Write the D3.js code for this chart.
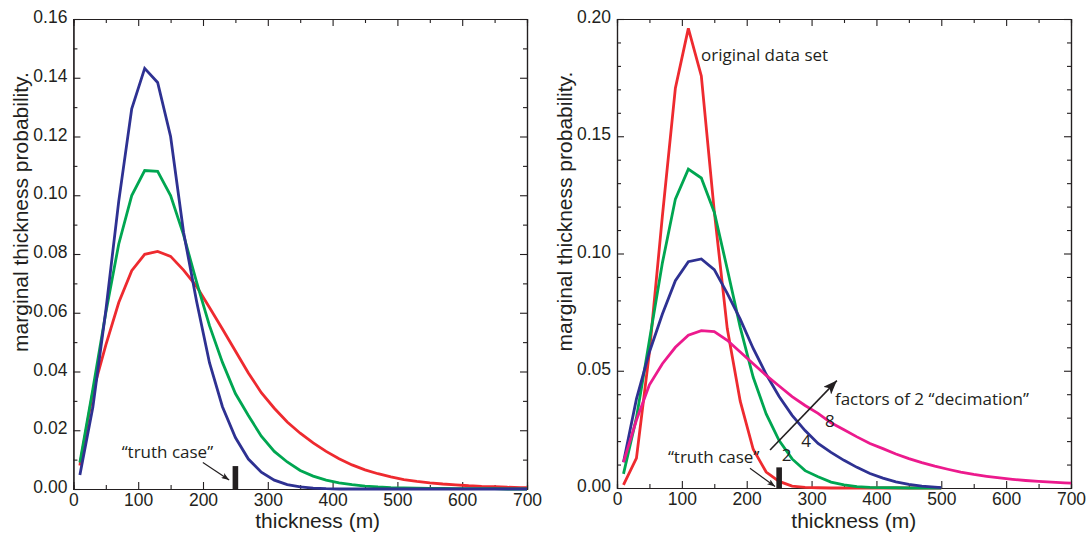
<!DOCTYPE html>
<html>
<head>
<meta charset="utf-8">
<script src="https://cdn.jsdelivr.net/npm/d3@7"></script>
<style>
  body { margin: 0; background: #fff; }
</style>
</head>
<body>
<div id="canvas"></div>
<script>
// Canvas
var w = 1091;
var h = 535;
var ink = "#231f20";
var tickFont = "'Liberation Sans', Arial, sans-serif";
var annoFont = "'Open Sans', sans-serif";

// ---- data ----
// thickness (m) sample points
const thicknessLong = [10, 30, 50, 70, 90, 110, 130, 150, 170, 190, 210, 230, 250, 270, 290, 310, 330, 350,
  370, 390, 410, 430, 450, 470, 490, 510, 530, 550, 570, 590, 610, 630, 650, 670, 690, 700];
const thicknessShort = [10, 30, 50, 70, 90, 110, 130, 150, 170, 190, 210, 230, 250, 270, 290, 310, 330, 350,
  370, 390, 410, 430, 450, 470, 490, 500];

// left panel
const leftRed = [0.008, 0.033, 0.049, 0.0635, 0.0743, 0.0799, 0.0809, 0.0792, 0.0745, 0.069, 0.0618, 0.0545,
  0.047, 0.0395, 0.0328, 0.0275, 0.0228, 0.019, 0.0157, 0.0128, 0.0103, 0.0082, 0.0065, 0.0052, 0.0041, 0.0032,
  0.0026, 0.0021, 0.0017, 0.0014, 0.0011, 0.0009, 0.0008, 0.0006, 0.0005, 0.0005];
const leftGreen = [0.009, 0.034, 0.060, 0.0834, 0.0999, 0.1084, 0.1081, 0.0999, 0.0865, 0.0705, 0.0556, 0.0431,
  0.0325, 0.025, 0.018, 0.0128, 0.0092, 0.0063, 0.0044, 0.003, 0.0021, 0.0015, 0.001, 0.0007, 0.0005, 0.0004,
  0.0003, 0.0002, 0.0002, 0.0001, 0.0001, 0.0001, 0.0001, 0, 0, 0];
const leftBlue = [0.0048, 0.0278, 0.0607, 0.098, 0.1294, 0.1432, 0.1384, 0.120, 0.0874, 0.064, 0.043, 0.028,
  0.0175, 0.0102, 0.0057, 0.003, 0.0015, 0.0007, 0.0003, 0.0001, 0, 0, 0, 0, 0, 0,
  0, 0, 0, 0, 0, 0, 0, 0, 0, 0];

// right panel
const rightRed = [0.0013, 0.0127, 0.058, 0.116, 0.1705, 0.196, 0.1757, 0.118, 0.068, 0.037, 0.0165, 0.0068,
  0.0028, 0.0008, 0.0003, 0.0001, 0, 0, 0, 0, 0, 0, 0, 0, 0, 0];
const rightGreen = [0.006, 0.030, 0.063, 0.096, 0.1232, 0.136, 0.1322, 0.1176, 0.0934, 0.0685, 0.0472, 0.0316,
  0.0202, 0.0124, 0.0074, 0.0048, 0.0025, 0.0013, 0.0006, 0.0003, 0.0002, 0.0001, 0, 0, 0, 0];
const rightBlue = [0.011, 0.038, 0.058, 0.0742, 0.0884, 0.0965, 0.0977, 0.0931, 0.083, 0.072, 0.0595, 0.0485,
  0.039, 0.031, 0.0245, 0.019, 0.0152, 0.0118, 0.0088, 0.0062, 0.0042, 0.0026, 0.0015, 0.0008, 0.0004, 0.0002];
const rightMagenta = [0.011, 0.029, 0.044, 0.053, 0.060, 0.0652, 0.0671, 0.0667, 0.063, 0.058, 0.053, 0.048,
  0.0435, 0.039, 0.0352, 0.0318, 0.0278, 0.0248, 0.0218, 0.019, 0.0168, 0.0145, 0.0125, 0.0108, 0.0093, 0.008,
  0.0068, 0.0058, 0.005, 0.0043, 0.0037, 0.0032, 0.0028, 0.0025, 0.0022, 0.0021];

// tick values
const xMajor = [0, 100, 200, 300, 400, 500, 600, 700];
const xMinor = [50, 150, 250, 350, 450, 550, 650];
const leftYMajor = [0, 0.02, 0.04, 0.06, 0.08, 0.10, 0.12, 0.14, 0.16];
const leftYMinor = [0.01, 0.03, 0.05, 0.07, 0.09, 0.11, 0.13, 0.15];
const rightYMajor = [0, 0.05, 0.10, 0.15, 0.20];
const rightYMinor = [0.01, 0.02, 0.03, 0.04, 0.06, 0.07, 0.08, 0.09, 0.11, 0.12, 0.13, 0.14,
  0.16, 0.17, 0.18, 0.19];

const colors = { red: "#ee2a2f", green: "#00a651", blue: "#2e3192", magenta: "#ec1a8d" };

// Create the SVG canvas
var svg = d3.select("#canvas")
    .append("svg")
    .attr("width", w)
    .attr("height", h)
    .style("background-color", "#fff");

// arrow heads
var defs = svg.append("defs");
function arrowMarker(id, len, wid) {
    defs.append("marker")
        .attr("id", id)
        .attr("markerUnits", "userSpaceOnUse")
        .attr("viewBox", `0 0 ${len} ${wid}`)
        .attr("refX", len)
        .attr("refY", wid / 2)
        .attr("markerWidth", len)
        .attr("markerHeight", wid)
        .attr("orient", "auto")
        .append("path")
        .attr("d", `M0,0 L${len},${wid / 2} L0,${wid} L${len * 0.25},${wid / 2} Z`)
        .attr("fill", ink);
}
arrowMarker("headSmall", 8, 6);
arrowMarker("headBig", 14, 11);

function styleAxis(g) {
    g.selectAll("path").attr("stroke", ink).attr("stroke-width", 1.2);
    g.selectAll("line").attr("stroke", ink).attr("stroke-width", 1.1);
    g.selectAll("text")
        .attr("fill", ink)
        .style("font-family", tickFont)
        .style("font-size", "17.5px");
}

function drawPanel(p) {
    let x_scale = d3.scaleLinear().domain([0, 700]).range([p.left, p.right]);
    let y_scale = d3.scaleLinear().domain([0, p.yMax]).range([p.bottom, p.top]);

    // minor ticks on all four sides
    svg.append("g").attr("transform", `translate(0,${p.bottom})`)
        .call(d3.axisBottom(x_scale).tickValues(xMinor).tickSize(-4).tickFormat(""))
        .call(styleAxis);
    svg.append("g").attr("transform", `translate(0,${p.top})`)
        .call(d3.axisTop(x_scale).tickValues(xMinor).tickSize(-4).tickFormat(""))
        .call(styleAxis);
    svg.append("g").attr("transform", `translate(${p.left},0)`)
        .call(d3.axisLeft(y_scale).tickValues(p.yMinor).tickSize(-4).tickFormat(""))
        .call(styleAxis);
    svg.append("g").attr("transform", `translate(${p.right},0)`)
        .call(d3.axisRight(y_scale).tickValues(p.yMinor).tickSize(-4).tickFormat(""))
        .call(styleAxis);

    // major ticks
    svg.append("g").attr("transform", `translate(0,${p.bottom})`)
        .call(d3.axisBottom(x_scale).tickValues(xMajor).tickSizeInner(-7).tickSizeOuter(0)
            .tickPadding(5).tickFormat(d3.format("d")))
        .call(styleAxis);
    svg.append("g").attr("transform", `translate(0,${p.top})`)
        .call(d3.axisTop(x_scale).tickValues(xMajor).tickSizeInner(-7).tickSizeOuter(0).tickFormat(""))
        .call(styleAxis);
    svg.append("g").attr("transform", `translate(${p.left},0)`)
        .call(d3.axisLeft(y_scale).tickValues(p.yMajor).tickSizeInner(-7).tickSizeOuter(0)
            .tickPadding(6).tickFormat(d3.format(".2f")))
        .call(styleAxis)
        .selectAll("text").attr("dy", "0.2em");
    svg.append("g").attr("transform", `translate(${p.right},0)`)
        .call(d3.axisRight(y_scale).tickValues(p.yMajor).tickSizeInner(-7).tickSizeOuter(0).tickFormat(""))
        .call(styleAxis);

    // axis titles
    svg.append("text")
        .attr("transform", `translate(${p.yTitleX},${(p.top + p.bottom) / 2 - 42}) rotate(-90)`)
        .attr("text-anchor", "middle")
        .style("font-family", tickFont)
        .style("font-size", "21px")
        .attr("fill", ink)
        .text("marginal thickness probability.");
    svg.append("text")
        .attr("x", x_scale(p.xTitleAt))
        .attr("y", 528)
        .attr("text-anchor", "middle")
        .style("font-family", tickFont)
        .style("font-size", "21px")
        .attr("fill", ink)
        .text("thickness (m)");

    // curves
    p.series.forEach(s => {
        const line = d3.line()
            .x((d, i) => x_scale(s.x[i]))
            .y(d => y_scale(d));
        svg.append("path")
            .datum(s.values)
            .attr("d", line)
            .attr("fill", "none")
            .attr("stroke", s.color)
            .attr("stroke-width", 2.8)
            .attr("stroke-linejoin", "miter");
    });

    // truth case bar
    svg.append("rect")
        .attr("x", x_scale(250) - 2.8)
        .attr("y", y_scale(p.truthTop))
        .attr("width", 5.6)
        .attr("height", y_scale(0) - y_scale(p.truthTop))
        .attr("fill", ink);

    // annotations
    p.notes.forEach(n => {
        svg.append("text")
            .attr("x", x_scale(n.x))
            .attr("y", y_scale(n.y))
            .attr("text-anchor", n.anchor)
            .style("font-family", annoFont)
            .style("font-size", "17px")
            .attr("fill", ink)
            .text(n.text);
    });
    p.arrows.forEach(a => {
        svg.append("line")
            .attr("x1", x_scale(a.x1)).attr("y1", y_scale(a.y1))
            .attr("x2", x_scale(a.x2)).attr("y2", y_scale(a.y2))
            .attr("stroke", ink)
            .attr("stroke-width", a.big ? 1.6 : 1.2)
            .attr("marker-end", a.big ? "url(#headBig)" : "url(#headSmall)");
    });
}

// Left panel
drawPanel({
    left: 73.4, right: 527, top: 19, bottom: 489,
    yMax: 0.16, yMajor: leftYMajor, yMinor: leftYMinor,
    yTitleX: 28, xTitleAt: 377,
    series: [
        { x: thicknessLong, values: leftRed, color: colors.red },
        { x: thicknessLong, values: leftGreen, color: colors.green },
        { x: thicknessLong, values: leftBlue, color: colors.blue }
    ],
    truthTop: 0.0078,
    notes: [
        { text: "\u201Ctruth case\u201D", x: 145, y: 0.0106, anchor: "middle" }
    ],
    arrows: [
        { x1: 199.8, y1: 0.0090, x2: 240.4, y2: 0.0031 }
    ]
});

// Right panel
drawPanel({
    left: 617, right: 1071, top: 19, bottom: 488,
    yMax: 0.20, yMajor: rightYMajor, yMinor: rightYMinor,
    yTitleX: 572, xTitleAt: 365,
    series: [
        { x: thicknessShort, values: rightRed, color: colors.red },
        { x: thicknessShort, values: rightGreen, color: colors.green },
        { x: thicknessShort, values: rightBlue, color: colors.blue },
        { x: thicknessLong, values: rightMagenta, color: colors.magenta }
    ],
    truthTop: 0.0088,
    notes: [
        { text: "original data set", x: 129.6, y: 0.182, anchor: "start" },
        { text: "\u201Ctruth case\u201D", x: 149, y: 0.0105, anchor: "middle" },
        { text: "factors of 2 \u201Cdecimation\u201D", x: 336, y: 0.0354, anchor: "start" },
        { text: "8", x: 328.4, y: 0.0261, anchor: "middle" },
        { text: "4", x: 291.6, y: 0.0175, anchor: "middle" },
        { text: "2", x: 261.7, y: 0.0116, anchor: "middle" }
    ],
    arrows: [
        { x1: 205, y1: 0.0084, x2: 243.7, y2: 0.0006 },
        { x1: 236, y1: 0.0162, x2: 339, y2: 0.0458, big: true }
    ]
});
</script>
</body>
</html>
